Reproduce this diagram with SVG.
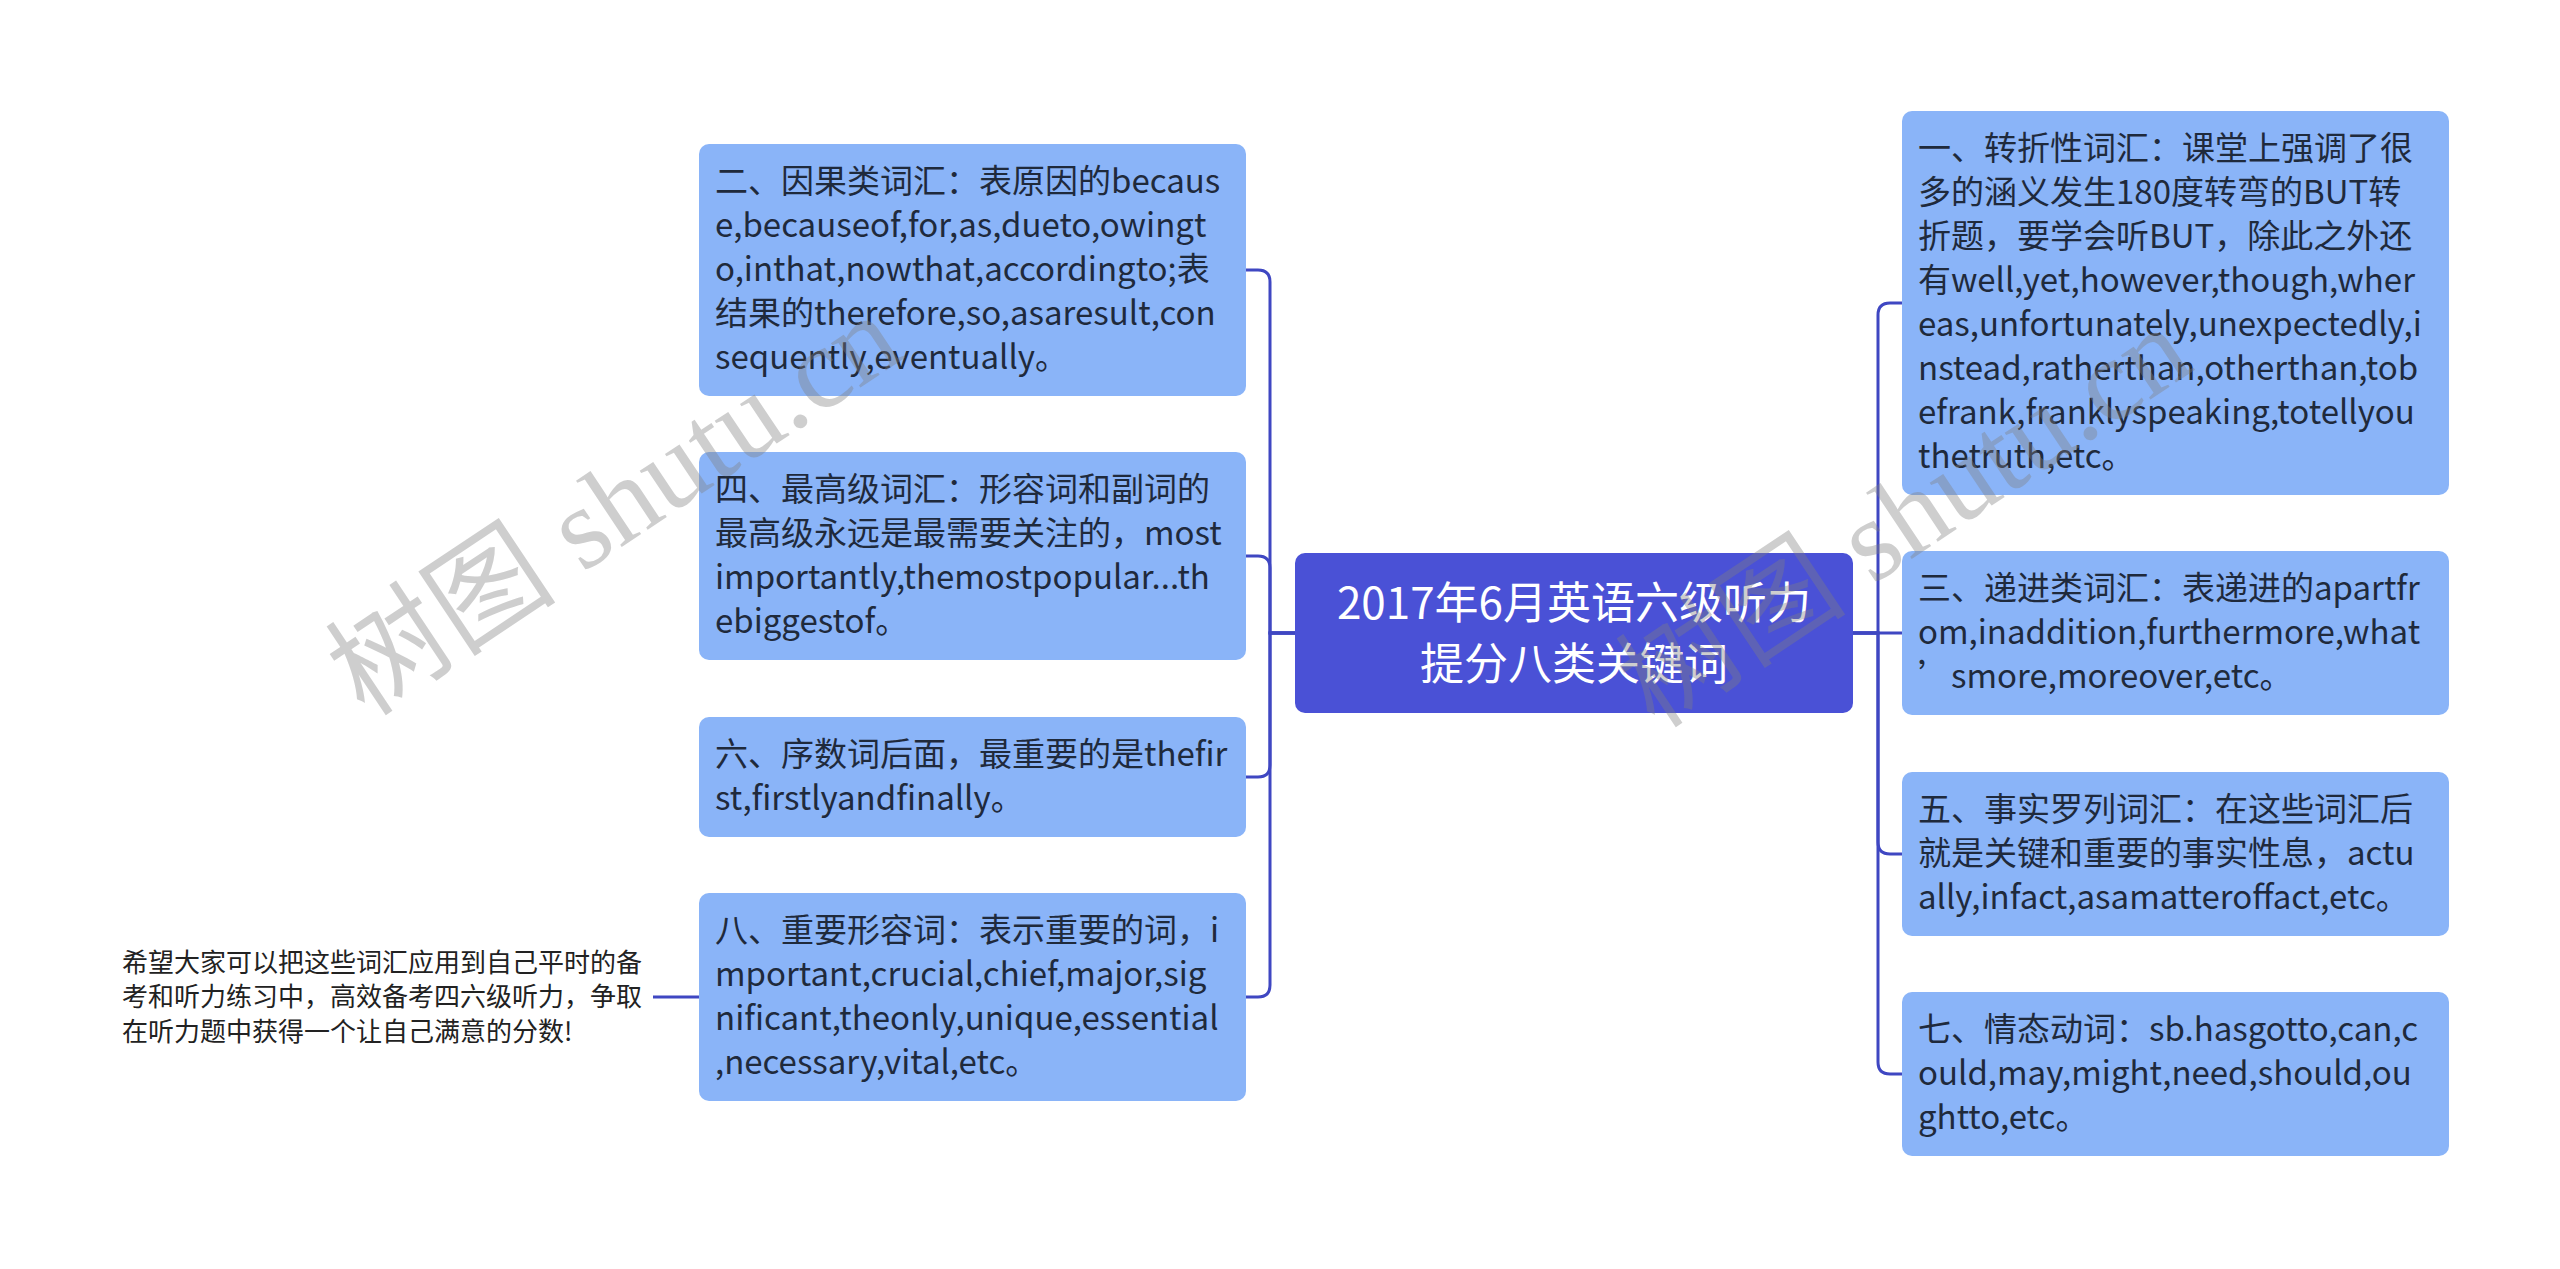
<svg xmlns="http://www.w3.org/2000/svg" width="2560" height="1269" viewBox="0 0 2560 1269">
<style>
.box{fill:#8ab4f8;}
.root{fill:#4a51d6;}
.t{font-family:"Noto Sans CJK SC","Liberation Sans",sans-serif;font-size:33px;fill:#1f2a3c;}
.tr{font-family:"Noto Sans CJK SC","Liberation Sans",sans-serif;font-size:44px;fill:#ffffff;text-anchor:middle;}
.tn{font-family:"Noto Sans CJK SC","Liberation Sans",sans-serif;font-size:26px;fill:#222222;}
.c{fill:none;stroke:#3f47c2;stroke-width:3;}
.wm{font-family:"Liberation Serif","Noto Sans CJK SC",serif;font-size:116px;fill:#808080;opacity:0.38;}
</style>
<rect width="2560" height="1269" fill="#ffffff"/>
<g id="connectors">
<path class="c" d="M1295,633 H1270 V282 Q1270,270 1258,270 H1246"/>
<path class="c" d="M1295,633 H1270 V568 Q1270,556 1258,556 H1246"/>
<path class="c" d="M1295,633 H1270 V765 Q1270,777 1258,777 H1246"/>
<path class="c" d="M1295,633 H1270 V985 Q1270,997 1258,997 H1246"/>
<path class="c" d="M699,997 H653"/>
<path class="c" d="M1853,633 H1878 V315 Q1878,303 1890,303 H1902"/>
<path class="c" d="M1853,633 H1902"/>
<path class="c" d="M1853,633 H1878 V842 Q1878,854 1890,854 H1902"/>
<path class="c" d="M1853,633 H1878 V1062 Q1878,1074 1890,1074 H1902"/>
</g>
<g id="root">
<rect class="root" x="1295" y="553" width="558" height="160" rx="10"/>
<text class="tr" x="1574" y="619">2017年6月英语六级听力</text>
<text class="tr" x="1574" y="680">提分八类关键词</text>
</g>
<g id="n2">
<rect class="box" x="699" y="144" width="547" height="252" rx="10"/>
<text class="t" x="715" y="193">二、因果类词汇：表原因的becaus</text>
<text class="t" x="715" y="237">e,becauseof,for,as,dueto,owingt</text>
<text class="t" x="715" y="281">o,inthat,nowthat,accordingto;表</text>
<text class="t" x="715" y="325">结果的therefore,so,asaresult,con</text>
<text class="t" x="715" y="369">sequently,eventually。</text>
</g>
<g id="n4">
<rect class="box" x="699" y="452" width="547" height="208" rx="10"/>
<text class="t" x="715" y="501">四、最高级词汇：形容词和副词的</text>
<text class="t" x="715" y="545">最高级永远是最需要关注的，most</text>
<text class="t" x="715" y="589">importantly,themostpopular...th</text>
<text class="t" x="715" y="633">ebiggestof。</text>
</g>
<g id="n6">
<rect class="box" x="699" y="717" width="547" height="120" rx="10"/>
<text class="t" x="715" y="766">六、序数词后面，最重要的是thefir</text>
<text class="t" x="715" y="810">st,firstlyandfinally。</text>
</g>
<g id="n8">
<rect class="box" x="699" y="893" width="547" height="208" rx="10"/>
<text class="t" x="715" y="942">八、重要形容词：表示重要的词，i</text>
<text class="t" x="715" y="986">mportant,crucial,chief,major,sig</text>
<text class="t" x="715" y="1030">nificant,theonly,unique,essential</text>
<text class="t" x="715" y="1074">,necessary,vital,etc。</text>
</g>
<g id="note">
<text class="tn" x="122" y="972">希望大家可以把这些词汇应用到自己平时的备</text>
<text class="tn" x="122" y="1006">考和听力练习中，高效备考四六级听力，争取</text>
<text class="tn" x="122" y="1041">在听力题中获得一个让自己满意的分数!</text>
</g>
<g id="n1">
<rect class="box" x="1902" y="111" width="547" height="384" rx="10"/>
<text class="t" x="1918" y="160">一、转折性词汇：课堂上强调了很</text>
<text class="t" x="1918" y="204">多的涵义发生180度转弯的BUT转</text>
<text class="t" x="1918" y="248">折题，要学会听BUT，除此之外还</text>
<text class="t" x="1918" y="292">有well,yet,however,though,wher</text>
<text class="t" x="1918" y="336">eas,unfortunately,unexpectedly,i</text>
<text class="t" x="1918" y="380">nstead,ratherthan,otherthan,tob</text>
<text class="t" x="1918" y="424">efrank,franklyspeaking,totellyou</text>
<text class="t" x="1918" y="468">thetruth,etc。</text>
</g>
<g id="n3">
<rect class="box" x="1902" y="551" width="547" height="164" rx="10"/>
<text class="t" x="1918" y="600">三、递进类词汇：表递进的apartfr</text>
<text class="t" x="1918" y="644">om,inaddition,furthermore,what</text>
<text class="t" x="1918" y="688">’smore,moreover,etc。</text>
</g>
<g id="n5">
<rect class="box" x="1902" y="772" width="547" height="164" rx="10"/>
<text class="t" x="1918" y="821">五、事实罗列词汇：在这些词汇后</text>
<text class="t" x="1918" y="865">就是关键和重要的事实性息，actu</text>
<text class="t" x="1918" y="909">ally,infact,asamatteroffact,etc。</text>
</g>
<g id="n7">
<rect class="box" x="1902" y="992" width="547" height="164" rx="10"/>
<text class="t" x="1918" y="1041">七、情态动词：sb.hasgotto,can,c</text>
<text class="t" x="1918" y="1085">ould,may,might,need,should,ou</text>
<text class="t" x="1918" y="1129">ghtto,etc。</text>
</g>
<g id="watermark">
<text class="wm" transform="translate(365,718) rotate(-33.7)">树图 shutu.cn</text>
<text class="wm" transform="translate(1655,730) rotate(-33.7)">树图 shutu.cn</text>
</g>
</svg>
